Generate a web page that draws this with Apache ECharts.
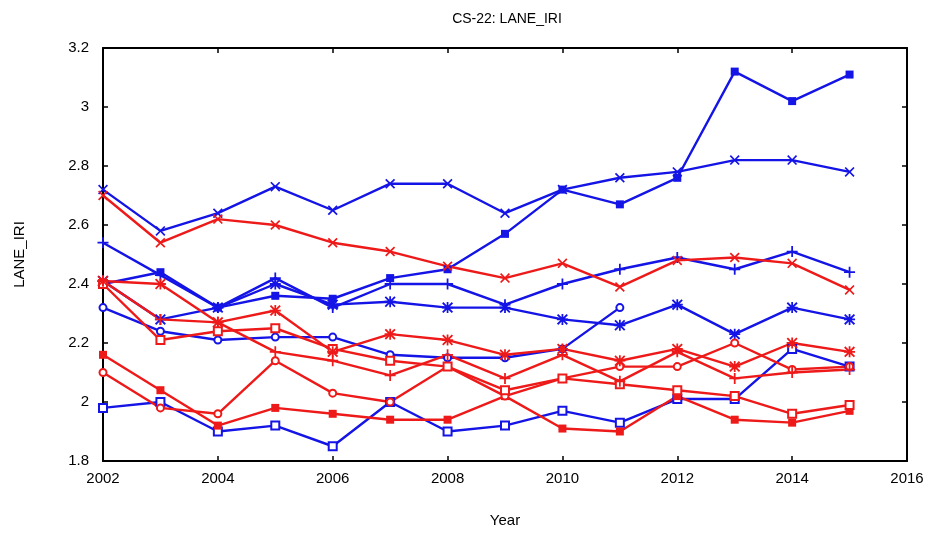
<!DOCTYPE html>
<html>
<head>
<meta charset="utf-8">
<script src="https://cdn.jsdelivr.net/npm/echarts@6/dist/echarts.min.js"></script>
<style>
html,body{margin:0;padding:0;background:#fff;}
#chart{width:932px;height:536px;}
</style>
</head>
<body>
<div id="chart"></div>
<script>
const years = [2002,2003,2004,2005,2006,2007,2008,2009,2010,2011,2012,2013,2014,2015];
const xTicks = [2002,2004,2006,2008,2010,2012,2014,2016];
const yTicks = [1.8,2,2.2,2.4,2.6,2.8,3,3.2];

const blueFilledSquare = [2.40,2.44,2.32,2.36,2.35,2.42,2.45,2.57,2.72,2.67,2.76,3.12,3.02,3.11];
const blueX            = [2.72,2.58,2.64,2.73,2.65,2.74,2.74,2.64,2.72,2.76,2.78,2.82,2.82,2.78];
const bluePlus         = [2.54,2.43,2.32,2.42,2.32,2.40,2.40,2.33,2.40,2.45,2.49,2.45,2.51,2.44];
const blueStar         = [2.41,2.28,2.32,2.40,2.33,2.34,2.32,2.32,2.28,2.26,2.33,2.23,2.32,2.28];
const blueCircle       = [2.32,2.24,2.21,2.22,2.22,2.16,2.15,2.15,2.18,2.32,null,null,null,null];
const blueOpenSquare   = [1.98,2.00,1.90,1.92,1.85,2.00,1.90,1.92,1.97,1.93,2.01,2.01,2.18,2.12];

const redX             = [2.70,2.54,2.62,2.60,2.54,2.51,2.46,2.42,2.47,2.39,2.48,2.49,2.47,2.38];
const redStar          = [2.41,2.40,2.27,2.31,2.17,2.23,2.21,2.16,2.18,2.14,2.18,2.12,2.20,2.17];
const redPlus          = [2.41,2.28,2.27,2.17,2.14,2.09,2.16,2.08,2.16,2.07,2.17,2.08,2.10,2.11];
const redOpenSquare    = [2.40,2.21,2.24,2.25,2.18,2.14,2.12,2.04,2.08,2.06,2.04,2.02,1.96,1.99];
const redCircle        = [2.10,1.98,1.96,2.14,2.03,2.00,2.12,2.02,2.08,2.12,2.12,2.20,2.11,2.12];
const redFilledSquare  = [2.16,2.04,1.92,1.98,1.96,1.94,1.94,2.02,1.91,1.90,2.02,1.94,1.93,1.97];

const BLUE = '#1414e6';
const RED = '#ee1a1a';
const SYM_X = 'path://M0,1.2L1.2,0L5,3.8L8.8,0L10,1.2L6.2,5L10,8.8L8.8,10L5,6.2L1.2,10L0,8.8L3.8,5Z';
const SYM_PLUS = 'path://M4.2,0H5.8V4.2H10V5.8H5.8V10H4.2V5.8H0V4.2H4.2Z';
const SYM_STAR = 'path://M0,1.2L1.2,0L5,3.8L8.8,0L10,1.2L6.2,5L10,8.8L8.8,10L5,6.2L1.2,10L0,8.8L3.8,5Z M4.2,0H5.8V4.2H10V5.8H5.8V10H4.2V5.8H0V4.2H4.2Z';

function mk(name, arr, color, symbol, size, empty) {
  return {
    name: name,
    type: 'line',
    data: years.map((y, i) => [y, arr[i]]),
    connectNulls: false,
    symbol: symbol,
    symbolSize: size,
    showAllSymbol: true,
    lineStyle: { color: color, width: 2.4 },
    itemStyle: empty ? { color: color, borderColor: color, borderWidth: 1.8 } : { color: color, borderColor: color, borderWidth: 0 },
    emphasis: { disabled: true },
    animation: false,
    z: 2
  };
}

const fmt = v => String(+v.toFixed(2));
const baseAxisLine = { show: true, lineStyle: { color: '#000', width: 2 } };
const tickStyle = { show: true, inside: true, length: 5, lineStyle: { color: '#000', width: 1.5 } };
const fontFam = '"Liberation Sans", Arial, sans-serif';

const option = {
  animation: false,
  backgroundColor: '#fff',
  title: {
    text: 'CS-22: LANE_IRI',
    left: 502, top: 7, textAlign: 'center',
    textStyle: { fontFamily: fontFam, fontSize: 14, fontWeight: 'normal', color: '#000' }
  },
  grid: { left: 103, right: 25, top: 48, bottom: 75, containLabel: false },
  xAxis: [
    {
      type: 'value', min: 2002, max: 2016, interval: 2, position: 'bottom',
      name: 'Year', nameLocation: 'middle', nameGap: 52,
      nameTextStyle: { fontFamily: fontFam, fontSize: 15, color: '#000' },
      axisLine: baseAxisLine, axisTick: tickStyle, splitLine: { show: false },
      axisLabel: { formatter: v => String(v), fontFamily: fontFam, fontSize: 15, color: '#000', margin: 10 }
    },
    {
      type: 'value', min: 2002, max: 2016, interval: 2, position: 'top',
      axisLine: baseAxisLine, axisTick: tickStyle, splitLine: { show: false }, axisLabel: { show: false }
    }
  ],
  yAxis: [
    {
      type: 'value', min: 1.8, max: 3.2, interval: 0.2, position: 'left',
      name: 'LANE_IRI', nameLocation: 'middle', nameGap: 76, nameRotate: 90,
      nameTextStyle: { fontFamily: fontFam, fontSize: 15, color: '#000' },
      axisLine: baseAxisLine, axisTick: tickStyle, splitLine: { show: false },
      axisLabel: { formatter: fmt, fontFamily: fontFam, fontSize: 15, color: '#000', margin: 14 }
    },
    {
      type: 'value', min: 1.8, max: 3.2, interval: 0.2, position: 'right',
      axisLine: baseAxisLine, axisTick: tickStyle, splitLine: { show: false }, axisLabel: { show: false }
    }
  ],
  series: [
    mk('blueOpenSquare', blueOpenSquare, BLUE, 'emptyRect', 8, true),
    mk('blueCircle', blueCircle, BLUE, 'emptyCircle', 7, true),
    mk('blueStar', blueStar, BLUE, SYM_STAR, 11, false),
    mk('bluePlus', bluePlus, BLUE, SYM_PLUS, 11, false),
    mk('blueX', blueX, BLUE, SYM_X, 10, false),
    mk('blueFilledSquare', blueFilledSquare, BLUE, 'rect', 8, false),
    mk('redFilledSquare', redFilledSquare, RED, 'rect', 8, false),
    mk('redCircle', redCircle, RED, 'emptyCircle', 7, true),
    mk('redOpenSquare', redOpenSquare, RED, 'emptyRect', 8, true),
    mk('redPlus', redPlus, RED, SYM_PLUS, 11, false),
    mk('redStar', redStar, RED, SYM_STAR, 11, false),
    mk('redX', redX, RED, SYM_X, 10, false)
  ]
};

const chart = echarts.init(document.getElementById('chart'), null, { renderer: 'canvas' });
chart.setOption(option);
</script>
</body>
</html>
